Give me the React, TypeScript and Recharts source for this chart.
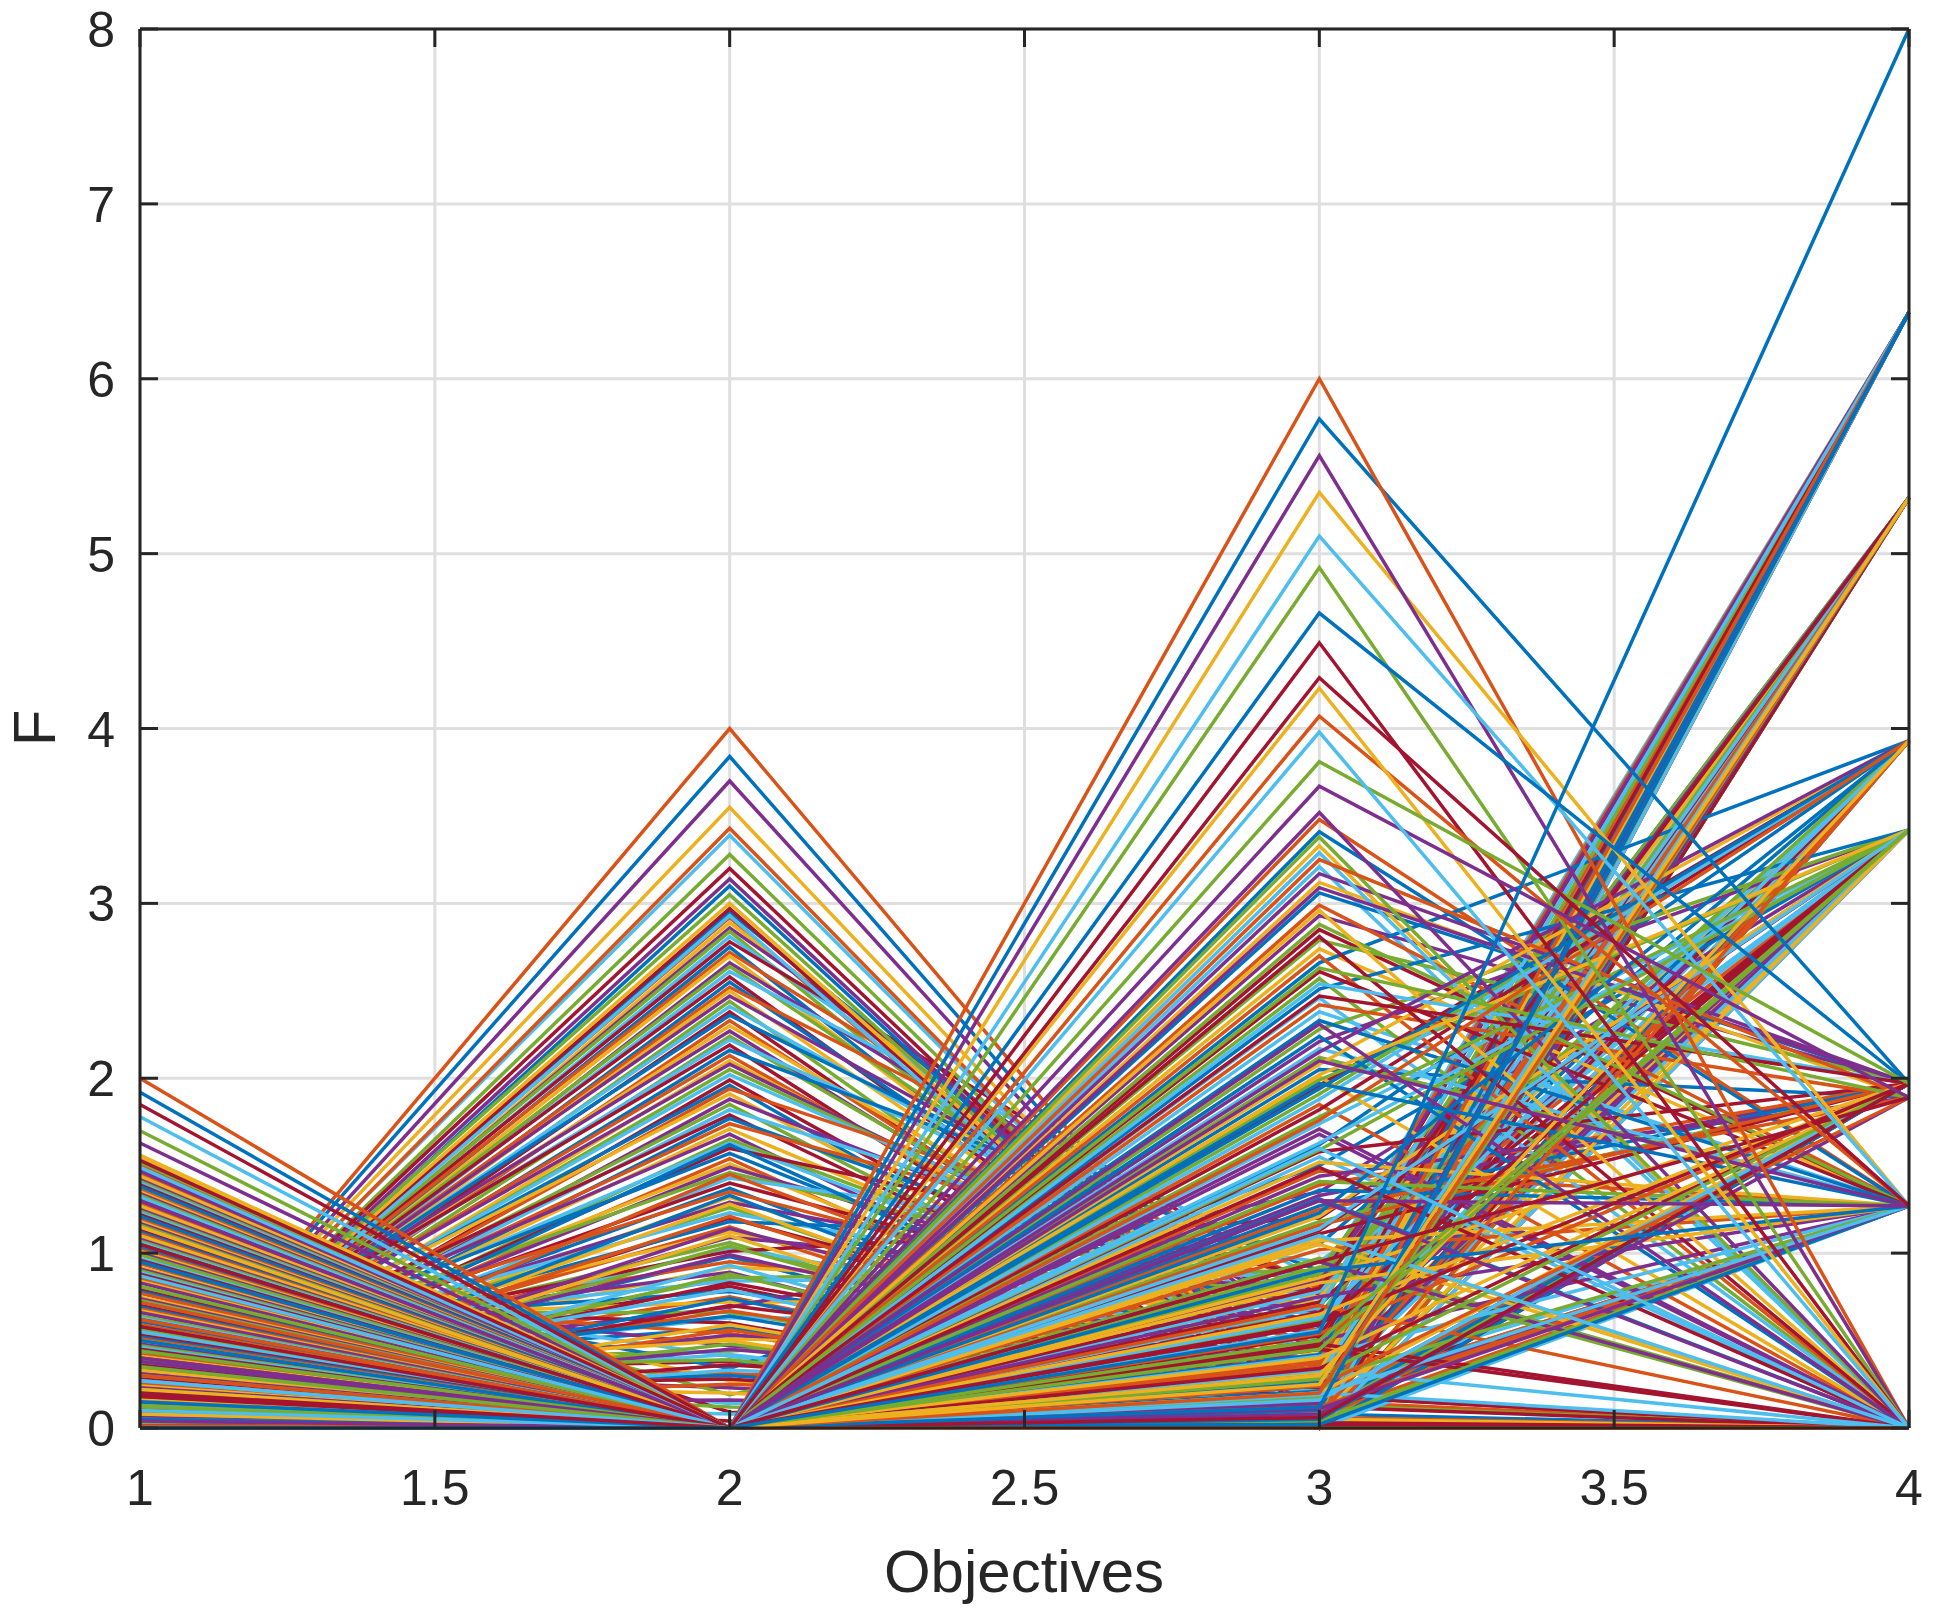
import { LineChart, Line, XAxis, YAxis, CartesianGrid, ReferenceLine } from "recharts";

const objectives = [1, 2, 3, 4];
const xTicks = [1, 1.5, 2, 2.5, 3, 3.5, 4];
const yTicks = [0, 1, 2, 3, 4, 5, 6, 7, 8];
const colorOrder = ["#0072BD", "#D95319", "#EDB120", "#7E2F8E", "#77AC30", "#4DBEEE", "#A2142F"];

// solutions peaking at objective 2, passing near 0 at objective 3 (f1, f2, f3, f4)
const lowerB = [
  [0.02, 2.95, 0.24, 5.32], [0.04, 2.92, 0.0, 6.38], [0.01, 2.89, 0.35, 3.42], [0.03, 2.86, 0.5, 6.38],
  [0.05, 2.84, 0.1, 5.32], [0.02, 2.81, 0.48, 3.93], [0.06, 2.78, 0.76, 6.38], [0.03, 2.75, 0.1, 1.97],
  [0.08, 2.72, 0.62, 5.32], [0.04, 2.7, 0.16, 6.38], [0.02, 2.66, 0.6, 3.42], [0.07, 2.64, 0.38, 5.32],
  [0.05, 2.61, 0.85, 6.38], [0.1, 2.58, 0.15, 3.93], [0.03, 2.55, 0.28, 6.38], [0.09, 2.52, 0.8, 5.32],
  [0.06, 2.5, 0.2, 1.27], [0.12, 2.47, 0.6, 6.38], [0.04, 2.44, 0.05, 3.42], [0.11, 2.41, 0.52, 5.32],
  [0.08, 2.38, 0.06, 6.38], [0.15, 2.36, 0.7, 3.93], [0.05, 2.33, 0.15, 0.0], [0.13, 2.3, 0.34, 6.38],
  [0.18, 2.27, 0.2, 5.32], [0.07, 2.24, 0.28, 3.42], [0.16, 2.22, 0.7, 6.38], [0.2, 2.19, 0.04, 1.97],
  [0.1, 2.16, 0.9, 5.32], [0.14, 2.13, 0.22, 6.38], [0.06, 2.1, 0.33, 3.93], [0.17, 2.08, 0.44, 5.32],
  [0.09, 2.05, 0.5, 3.42], [0.12, 2.02, 0.55, 6.38], [0.04, 1.99, 0.12, 1.27], [0.15, 1.96, 0.04, 5.32],
  [0.08, 1.94, 0.82, 6.38], [0.19, 1.91, 0.14, 3.42], [0.05, 1.88, 0.58, 3.93], [0.13, 1.85, 0.12, 6.38],
  [0.1, 1.82, 0.74, 5.32], [0.21, 1.79, 0.18, 0.0], [0.07, 1.77, 0.58, 6.38], [0.16, 1.74, 0.8, 3.42],
  [0.11, 1.71, 0.3, 5.32], [0.23, 1.68, 0.07, 1.97], [0.06, 1.65, 0.4, 6.38], [0.18, 1.63, 0.36, 3.93],
  [0.12, 1.6, 0.86, 5.32], [0.25, 1.57, 0.22, 3.42], [0.09, 1.54, 0.02, 6.38], [0.2, 1.51, 0.16, 1.27],
  [0.14, 1.49, 0.54, 5.32], [0.27, 1.46, 0.68, 6.38], [0.1, 1.43, 0.95, 3.42], [0.22, 1.4, 0.52, 3.93],
  [0.15, 1.37, 0.09, 1.97], [0.29, 1.35, 0.48, 6.38], [0.12, 1.32, 0.14, 5.32], [0.24, 1.29, 0.66, 3.42],
  [0.17, 1.26, 0.13, 0.0], [0.31, 1.23, 0.64, 5.32], [0.13, 1.2, 0.3, 6.38], [0.26, 1.18, 1.05, 3.93],
  [0.19, 1.15, 0.05, 1.27], [0.33, 1.12, 0.41, 3.42], [0.15, 1.09, 0.78, 6.38], [0.28, 1.06, 0.11, 1.97],
  [0.21, 1.03, 0.46, 5.32], [0.36, 1.01, 1.2, 3.42], [0.17, 0.98, 0.08, 0.0], [0.4, 0.95, 0.56, 6.38],
  [0.24, 0.92, 0.75, 3.93], [0.45, 0.89, 0.03, 1.27], [0.19, 0.86, 0.9, 5.32], [0.5, 0.84, 0.88, 3.42],
  [0.27, 0.81, 0.1, 1.97], [0.55, 0.78, 0.36, 6.38], [0.22, 0.75, 0.06, 0.0], [0.6, 0.72, 0.72, 5.32],
  [0.3, 0.69, 1.35, 3.42], [0.66, 0.66, 0.14, 1.27], [0.25, 0.63, 0.62, 3.93], [0.72, 0.6, 0.02, 1.97],
  [0.33, 0.57, 0.18, 6.38], [0.78, 0.54, 0.0, 0.0], [0.28, 0.51, 0.44, 3.42], [0.84, 0.47, 0.17, 1.27],
  [0.36, 0.44, 0.62, 5.32], [0.9, 0.41, 0.05, 1.97], [0.31, 0.38, 0.12, 0.0], [0.96, 0.34, 1.5, 3.42],
  [0.4, 0.31, 0.2, 1.27], [1.02, 0.27, 0.08, 1.97], [0.35, 0.23, 0.03, 0.0], [1.1, 0.19, 0.85, 3.93],
  [0.45, 0.14, 0.25, 1.27], [1.2, 0.09, 0.01, 0.0],
  [0.05, 1.62, 0.1, 1.97], [0.02, 1.45, 0.2, 1.27], [0.08, 1.28, 0.05, 0.0], [0.03, 1.14, 0.3, 3.42],
  [0.1, 1.04, 0.12, 1.97], [0.04, 0.93, 0.0, 1.27], [0.12, 0.83, 0.22, 3.93], [0.06, 0.74, 0.08, 1.97],
  [0.15, 0.67, 0.15, 1.27], [0.07, 0.59, 0.03, 0.0], [0.18, 0.53, 0.4, 3.42], [0.09, 0.48, 0.1, 1.97],
  [0.2, 0.42, 0.02, 1.27], [0.11, 0.36, 0.18, 0.0], [0.23, 0.3, 0.06, 1.97], [0.13, 0.25, 0.12, 1.27],
  [0.26, 0.2, 0.0, 0.0], [0.14, 0.16, 0.09, 1.97], [0.29, 0.12, 0.04, 1.27], [0.16, 0.08, 0.02, 0.0],
  [0.19, 0.04, 0.0, 1.97],
  [0.03, 1.33, 0.06, 1.27], [0.12, 1.21, 0.14, 1.97], [0.05, 1.1, 0.02, 0.0], [0.17, 0.99, 0.25, 3.42],
  [0.08, 0.88, 0.09, 1.97], [0.2, 0.79, 0.04, 1.27], [0.1, 0.7, 0.3, 3.93], [0.24, 0.64, 0.11, 1.97],
  [0.06, 0.56, 0.07, 1.27], [0.28, 0.5, 0.0, 0.0], [0.14, 0.45, 0.16, 1.97], [0.32, 0.39, 0.05, 1.27],
  [0.09, 0.33, 0.21, 3.42], [0.22, 0.28, 0.03, 0.0],
];

// highest peaks at objective 2
const topB = [
  [0.02, 3.84, 0.0, 1.97], [0.0, 4.0, 0.0, 0.0], [0.03, 3.55, 0.0, 3.93], [0.01, 3.7, 0.0, 3.42],
  [0.02, 3.28, 0.0, 5.32], [0.04, 3.39, 0.0, 3.42], [0.03, 2.97, 0.0, 6.38], [0.01, 3.1, 0.0, 3.93],
  [0.02, 3.43, 0.0, 3.93], [0.04, 3.0, 0.0, 5.32], [0.03, 3.14, 0.0, 5.32], [0.05, 3.05, 0.0, 5.32],
  [0.02, 2.93, 0.0, 6.38], [0.04, 3.2, 0.0, 5.32],
];

// solutions passing through 0 at objective 2 (f1, f2, f3, f4)
const mainA = [
  [1.46, 0, 0.42, 6.38], [1.45, 0, 1.85, 0.0], [1.44, 0, 2.74, 1.27], [1.42, 0, 0.15, 5.32],
  [1.41, 0, 1.18, 1.97], [1.4, 0, 3.21, 0.0], [1.39, 0, 0.66, 3.42], [1.38, 0, 2.05, 1.89],
  [1.36, 0, 1.47, 1.27], [1.35, 0, 0.28, 6.38], [1.34, 0, 2.93, 1.97], [1.33, 0, 0.97, 0.0],
  [1.32, 0, 2.38, 1.27], [1.3, 0, 0.53, 5.32], [1.29, 0, 1.62, 3.93], [1.28, 0, 3.48, 1.27],
  [1.27, 0, 0.09, 6.38], [1.25, 0, 1.33, 1.97], [1.24, 0, 2.57, 0.0], [1.23, 0, 0.78, 3.93],
  [1.22, 0, 1.96, 3.93], [1.21, 0, 3.06, 1.97], [1.19, 0, 0.35, 5.32], [1.18, 0, 1.09, 0.0],
  [1.17, 0, 2.21, 3.42], [1.16, 0, 0.61, 6.38], [1.14, 0, 1.74, 3.42], [1.13, 0, 2.85, 1.27],
  [1.12, 0, 0.21, 3.93], [1.11, 0, 1.39, 1.97], [1.1, 0, 3.33, 0.0], [1.08, 0, 0.84, 5.32],
  [1.07, 0, 2.12, 1.27], [1.06, 0, 1.55, 0.0], [1.05, 0, 0.47, 6.38], [1.03, 0, 2.66, 3.93],
  [1.02, 0, 1.02, 1.27], [1.01, 0, 3.12, 1.89], [1.0, 0, 0.12, 5.32], [0.99, 0, 1.91, 3.93],
  [0.97, 0, 2.46, 0.0], [0.96, 0, 0.72, 3.42], [0.95, 0, 1.27, 1.97], [0.94, 0, 2.99, 1.27],
  [0.92, 0, 0.32, 6.38], [0.91, 0, 1.68, 0.0], [0.9, 0, 2.28, 3.42], [0.89, 0, 0.56, 5.32],
  [0.88, 0, 1.13, 3.42], [0.86, 0, 3.41, 1.27], [0.85, 0, 0.18, 3.93], [0.84, 0, 2.01, 0.0],
  [0.83, 0, 1.44, 1.89], [0.81, 0, 2.79, 1.97], [0.8, 0, 0.69, 6.38], [0.79, 0, 1.82, 3.93],
  [0.78, 0, 2.51, 3.42], [0.77, 0, 0.39, 5.32], [0.75, 0, 1.05, 0.0], [0.74, 0, 3.17, 1.97],
  [0.73, 0, 0.88, 3.93], [0.72, 0, 2.17, 1.27], [0.7, 0, 1.58, 1.97], [0.69, 0, 0.24, 6.38],
  [0.68, 0, 2.7, 0.0], [0.67, 0, 1.21, 3.42], [0.66, 0, 0.5, 1.27], [0.64, 0, 1.99, 3.42],
  [0.63, 0, 3.29, 0.0], [0.62, 0, 0.8, 5.32], [0.61, 0, 1.36, 1.27], [0.59, 0, 2.42, 1.89],
  [0.58, 0, 0.06, 3.42], [0.57, 0, 1.71, 0.0], [0.56, 0, 2.88, 1.27], [0.55, 0, 0.63, 3.93],
  [0.53, 0, 1.11, 1.97], [0.52, 0, 2.24, 0.0], [0.51, 0, 0.37, 6.38], [0.5, 0, 1.52, 1.27],
  [0.48, 0, 3.09, 1.97], [0.47, 0, 0.92, 0.0], [0.46, 0, 1.88, 3.93], [0.45, 0, 2.61, 1.27],
  [0.44, 0, 0.26, 5.32], [0.42, 0, 1.25, 1.89], [0.41, 0, 2.08, 3.93], [0.4, 0, 0.75, 1.27],
  [0.39, 0, 3.38, 0.0], [0.37, 0, 1.63, 3.42], [0.36, 0, 0.45, 0.0], [0.35, 0, 2.33, 1.27],
  [0.34, 0, 1.16, 1.97], [0.33, 0, 2.96, 0.0], [0.31, 0, 0.14, 6.38], [0.3, 0, 1.78, 3.42],
  [0.29, 0, 2.54, 1.97], [0.28, 0, 0.59, 3.42], [0.26, 0, 1.31, 0.0], [0.25, 0, 3.25, 1.89],
  [0.24, 0, 0.86, 1.97], [0.23, 0, 2.15, 3.93], [0.22, 0, 1.41, 1.27], [0.2, 0, 0.3, 5.32],
  [0.19, 0, 2.81, 0.0], [0.18, 0, 1.94, 3.93], [0.17, 0, 0.7, 0.0], [0.15, 0, 1.07, 1.27],
  [0.14, 0, 3.52, 0.0], [0.13, 0, 1.59, 3.42], [0.12, 0, 0.2, 0.0], [0.11, 0, 2.47, 1.97],
  [0.09, 0, 1.23, 3.93], [0.08, 0, 0.54, 1.97], [0.07, 0, 2.02, 3.42], [0.06, 0, 0.95, 0.0],
  [0.05, 0, 2.63, 1.89], [0.04, 0, 0.41, 1.27], [0.04, 0, 1.49, 0.0], [0.03, 0, 0.1, 6.38],
  [0.03, 0, 1.76, 3.93], [0.025, 0, 0.83, 1.27], [0.02, 0, 2.31, 0.0], [0.018, 0, 0.17, 5.32],
  [0.015, 0, 1.14, 3.42], [0.012, 0, 0.48, 0.0], [0.01, 0, 1.97, 1.27], [0.008, 0, 0.07, 3.93],
  [0.006, 0, 0.65, 1.97], [0.005, 0, 1.3, 0.0], [0.003, 0, 0.04, 1.27], [0.002, 0, 0.33, 0.0],
  [0.0, 0, 0.02, 0.0],
  [0.95, 0, 0.05, 1.97], [0.62, 0, 0.12, 1.27], [1.15, 0, 0.2, 1.97], [0.38, 0, 0.08, 1.89],
  [0.81, 0, 0.28, 1.27], [0.27, 0, 0.16, 1.97], [1.05, 0, 0.34, 1.97], [0.5, 0, 0.02, 1.27],
  [0.72, 0, 0.24, 1.89], [0.16, 0, 0.4, 1.97], [1.3, 0, 0.11, 1.27], [0.44, 0, 0.3, 1.97],
  [0.87, 0, 0.19, 1.27], [0.58, 0, 0.06, 1.97],
];

// largest first objective values
const edgeA = [
  [1.92, 0, 0.9, 1.27], [2.0, 0, 0.0, 0.0], [1.55, 0, 0.3, 3.93], [1.63, 0, 1.3, 1.27],
  [1.7, 0, 0.45, 3.42], [1.78, 0, 1.1, 0.0], [1.85, 0, 0.6, 1.97], [1.48, 0, 0.12, 6.38],
  [1.5, 0, 0.2, 5.32], [1.56, 0, 0.25, 5.32], [1.47, 0, 2.1, 1.27], [1.52, 0, 0.5, 3.42],
  [1.49, 0, 1.6, 0.0], [1.53, 0, 0.95, 1.89],
];

// highest peaks at objective 3
const peakA = [
  [0.05, 0, 5.77, 1.97], [0.01, 0, 6.0, 0.0], [0.08, 0, 5.35, 1.27], [0.04, 0, 5.56, 0.0],
  [0.12, 0, 4.92, 0.0], [0.1, 0, 5.1, 1.27], [0.18, 0, 4.49, 0.0], [0.15, 0, 4.66, 1.97],
  [0.3, 0, 4.07, 1.27], [0.22, 0, 4.23, 0.0], [0.4, 0, 3.67, 1.89], [0.35, 0, 3.81, 1.97],
  [0.27, 0, 3.98, 0.0], [0.2, 0, 4.29, 1.27],
];

const extremeF4 = [[0.0, 0, 0.55, 8.0]];

const solutions = [...lowerB, ...topB, ...mainA, ...edgeA, ...peakA, ...extremeF4];

const chartData = objectives.map((obj, k) => {
  const row: Record<string, number> = { obj };
  solutions.forEach((s, i) => {
    row[`s${i}`] = s[k];
  });
  return row;
});

const W = 1934;
const H = 1617;
const PLOT_TOP = 29;
const PLOT_BOTTOM = 1428;
const PLOT_LEFT = 140;
const PLOT_RIGHT = 1909;
const INK = "#262626";
const FONT = "'Liberation Sans', Arial, Helvetica, sans-serif";

function XTick(props: any) {
  const { x, payload } = props;
  return (
    <g>
      <line x1={x} x2={x} y1={PLOT_BOTTOM} y2={PLOT_BOTTOM - 18} stroke={INK} strokeWidth={3} />
      <line x1={x} x2={x} y1={PLOT_TOP} y2={PLOT_TOP + 18} stroke={INK} strokeWidth={3} />
      <text x={x} y={PLOT_BOTTOM + 77} textAnchor="middle" fontSize={50} fontFamily={FONT} fill={INK}>
        {payload.value}
      </text>
    </g>
  );
}

function YTick(props: any) {
  const { y, payload } = props;
  return (
    <g>
      <line x1={PLOT_LEFT} x2={PLOT_LEFT + 18} y1={y} y2={y} stroke={INK} strokeWidth={3} />
      <line x1={PLOT_RIGHT} x2={PLOT_RIGHT - 18} y1={y} y2={y} stroke={INK} strokeWidth={3} />
      <text x={PLOT_LEFT - 25} y={y + 18} textAnchor="end" fontSize={50} fontFamily={FONT} fill={INK}>
        {payload.value}
      </text>
    </g>
  );
}

export default function App() {
  return (
    <div style={{ position: "absolute", left: 0, top: 0, width: W, height: H, background: "#fff" }}>
      <LineChart width={W} height={H} data={chartData} margin={{ top: 29, right: 25, bottom: 89, left: 40 }}>
        <CartesianGrid stroke="#dfdfdf" strokeWidth={3} />
        <XAxis
          dataKey="obj"
          type="number"
          domain={[1, 4]}
          ticks={xTicks}
          height={100}
          tickLine={false}
          axisLine={{ stroke: INK, strokeWidth: 3 }}
          tick={(p: any) => <XTick {...p} />}
          interval={0}
        />
        <YAxis
          type="number"
          domain={[0, 8]}
          ticks={yTicks}
          width={100}
          tickLine={false}
          axisLine={{ stroke: INK, strokeWidth: 3 }}
          tick={(p: any) => <YTick {...p} />}
          interval={0}
        />
        {solutions.map((_, i) => (
          <Line
            key={i}
            type="linear"
            dataKey={`s${i}`}
            stroke={colorOrder[i % colorOrder.length]}
            strokeWidth={3.5}
            dot={false}
            activeDot={false}
            isAnimationActive={false}
          />
        ))}
        <ReferenceLine x={4} stroke={INK} strokeWidth={3} />
        <ReferenceLine y={8} stroke={INK} strokeWidth={3} />
      </LineChart>
      <svg width={W} height={H} style={{ position: "absolute", left: 0, top: 0, pointerEvents: "none" }}>
        <text x={1024} y={1592} textAnchor="middle" fontSize={60} fontFamily={FONT} fill={INK}>
          Objectives
        </text>
        <text
          x={55}
          y={728}
          textAnchor="middle"
          fontSize={60}
          fontFamily={FONT}
          fill={INK}
          transform="rotate(-90 55 728)"
        >
          F
        </text>
      </svg>
    </div>
  );
}
